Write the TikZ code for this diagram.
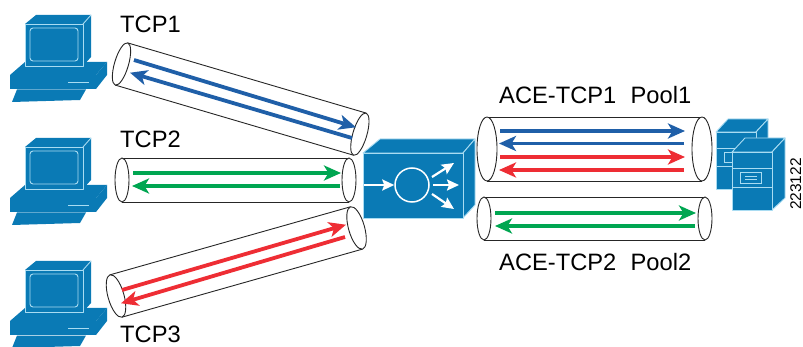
\documentclass[tikz,border=0pt]{standalone}
\usepackage{fontspec}
\setmainfont{Liberation Sans}
\usetikzlibrary{arrows.meta,calc}
\definecolor{dev}{HTML}{0A7AB5}
\definecolor{edge}{HTML}{A9DCF2}
\definecolor{ablue}{HTML}{1F5FA8}
\definecolor{ared}{HTML}{EE2D34}
\definecolor{agreen}{HTML}{00A651}
\tikzset{
  devbox/.style={fill=dev,draw=edge,line width=0.9pt,line join=round},
  devline/.style={draw=edge,line width=0.9pt},
  tubeline/.style={draw=black!85,line width=0.9pt},
  flow/.style={line width=3.8pt,-{Stealth[length=17pt,width=15pt,inset=4.5pt]},shorten >=-1pt},
  wflow/.style={white,line width=2.2pt,-{Stealth[length=12pt,width=11pt,inset=2pt]}},
  lab/.style={font=\fontsize{23.7}{25}\selectfont,anchor=base west,inner sep=0pt},
  pics/computer/.style={code={
    \path[devbox,draw=none] (25,24)--(36,15)--(91,15)--(83,24)--cycle;
    \path[devbox,draw=none] (83,24)--(91,15)--(91,57)--(83,66)--cycle;
    \path[devbox,draw=none] (10,75)--(25,62)--(107,62)--(96,75)--cycle;
    \path[devbox,draw=none] (96,75)--(107,62)--(107,75)--(96,89)--cycle;
    \path[devbox] (25,24) rectangle (83,66);
    \path[devbox,draw=none] (10,75) rectangle (96,89);
    \path[devline,rounded corners=3pt] (30,28) rectangle (78,61);
    \path[devline] (83,24)--(91,15);
    \path[devline] (68,82.5)--(89,82.5);
    \path[devbox,draw=none] (17,89.5)--(86,89.5)--(80,100)--(12,102)--cycle;
  }}
}
\newcommand{\tube}[6]{% cx cy length angle rx ry
  \begin{scope}[shift={(#1,#2)},rotate=#4]
    \path[fill=white] (0,-#6)rectangle(#3,#6);
    \path[tubeline] (0,-#6)--(#3,-#6) (0,#6)--(#3,#6);
    \path[tubeline,fill=white] (0,0) ellipse [x radius=#5,y radius=#6];
    \path[tubeline,fill=white] (#3,0) ellipse [x radius=#5,y radius=#6];
  \end{scope}}
\begin{document}
\begin{tikzpicture}[x=1pt,y=-1pt]
\useasboundingbox (0,0) rectangle (803,347);
% computers
\pic at (0,0) {computer};
\pic at (0,123) {computer};
\pic at (0,246) {computer};
% tubes
\tube{121.5}{64}{248.5}{-16.4}{7}{22}
\tube{122}{180}{227}{0}{7}{22}
\tube{116}{296}{250}{15.8}{8}{22}
\tube{487}{149}{215}{0}{10}{32}
\tube{484}{218.5}{221}{0}{7}{21.5}
% flow end points
\coordinate (a1) at (134,60); \coordinate (b1) at (355,127);
\coordinate (a2) at (352,138); \coordinate (b2) at (131,73);
\coordinate (a3) at (133,173); \coordinate (b3) at (340,173);
\coordinate (a4) at (340,186); \coordinate (b4) at (133,186);
\coordinate (a5) at (122,290); \coordinate (b5) at (345,225);
\coordinate (a6) at (345,237); \coordinate (b6) at (122,303);
\coordinate (a7) at (500,131); \coordinate (b7) at (684,131);
\coordinate (a8) at (684,143.5); \coordinate (b8) at (500,143.5);
\coordinate (a9) at (500,157); \coordinate (b9) at (684,157);
\coordinate (a10) at (684,170); \coordinate (b10) at (500,170);
\coordinate (a11) at (495,213); \coordinate (b11) at (695,213);
\coordinate (a12) at (695,226); \coordinate (b12) at (496,226);
\draw[flow,ablue] (a1)--(b1);
\draw[flow,ablue] (a2)--(b2);
\draw[flow,agreen] (a3)--(b3);
\draw[flow,agreen] (a4)--(b4);
\draw[flow,ared] (a5)--(b5);
\draw[flow,ared] (a6)--(b6);
\draw[flow,ablue] (a7)--(b7);
\draw[flow,ablue] (a8)--(b8);
\draw[flow,ared] (a9)--(b9);
\draw[flow,ared] (a10)--(b10);
\draw[flow,agreen] (a11)--(b11);
\draw[flow,agreen] (a12)--(b12);
% switch
\path[devbox] (363,153)--(380,139)--(475,139)--(463,153)--cycle;
\path[devbox] (463,153)--(475,139)--(475,205)--(463,218)--cycle;
\path[devbox] (363,153) rectangle (463,218);
\node[circle,draw=white,line width=1.5pt,minimum size=34pt,inner sep=0pt] (hub) at (412,185) {};
\coordinate (in) at (364,185);
\coordinate (o1) at (454,163);
\coordinate (o2) at (459,185);
\coordinate (o3) at (454,209);
\draw[wflow] (in)--(hub);
\draw[wflow] ($(hub)+(20,-8)$)--(o1);
\draw[wflow] ($(hub)+(21,0)$)--(o2);
\draw[wflow] ($(hub)+(20,9)$)--(o3);
% servers
\path[devbox] (716,132)--(728,119)--(768,119)--(756,132)--cycle;
\path[devbox] (756,132)--(768,119)--(768,178)--(756,189)--cycle;
\path[devbox] (716,132) rectangle (756,189);
\path[devline] (716,148)--(756,148) (716,166)--(756,166);
\path[devline] (724,152) rectangle (738,162);
\path[devbox] (732,152)--(745,138)--(785,138)--(772,152)--cycle;
\path[devbox] (772,152)--(785,138)--(785,198)--(772,210)--cycle;
\path[devbox] (732,152) rectangle (772,210);
\path[devline] (732,168)--(772,168) (732,187)--(772,187);
\path[devline] (740.5,172) rectangle (761.5,183);
\path[devline,line width=0.7pt] (745,176)--(757,176) (745,179.5)--(757,179.5);
% labels
\node[lab] (t1) at (120,33) {TCP1};
\node[lab] (t2) at (120,148) {TCP2};
\node[lab] (t3) at (120,342.5) {TCP3};
\node[lab] (p1) at (499,103.5) {ACE-TCP1\hspace{0.6em}Pool1};
\node[lab] (p2) at (499,271) {ACE-TCP2\hspace{0.6em}Pool2};
\node[font=\fontsize{15.5}{16}\selectfont,rotate=90,anchor=base,inner sep=0pt] (num) at (801,184) {223122};
\end{tikzpicture}
\end{document}
